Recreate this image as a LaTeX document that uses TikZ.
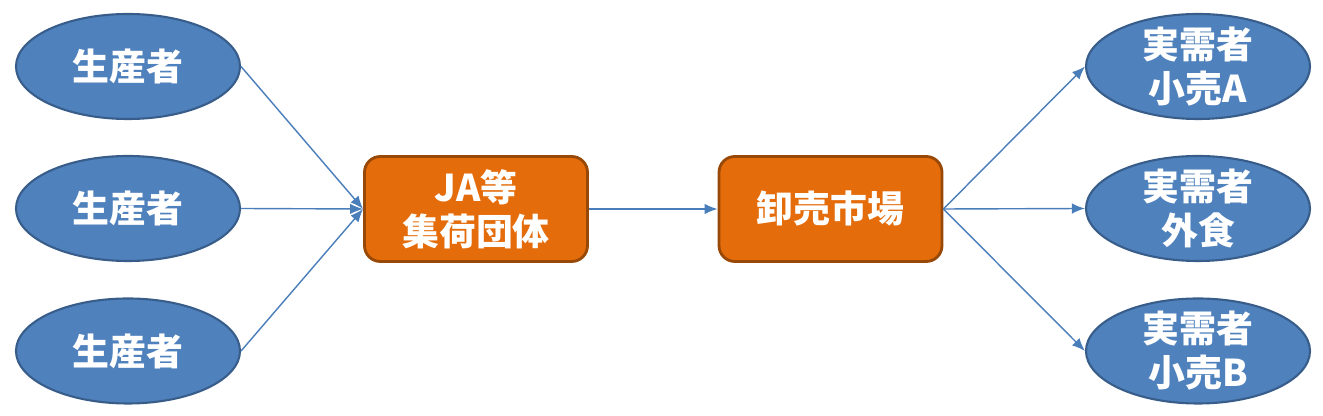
\documentclass[tikz,border=0pt]{standalone}
\usepackage{fontspec}
\setmainfont{Noto Sans CJK JP}
\usepackage{tikz}
\usetikzlibrary{arrows.meta}
\usetikzlibrary{shapes.geometric}
\definecolor{nodeblue}{RGB}{79,129,189}
\definecolor{edgeblue}{RGB}{56,93,138}
\definecolor{boxorange}{RGB}{228,108,10}
\definecolor{boxbrown}{RGB}{152,72,7}
\definecolor{flowblue}{RGB}{74,126,187}

\begin{document}
\begin{tikzpicture}[
    actor/.style={ellipse,draw=edgeblue,fill=nodeblue,line width=1.2pt,
      minimum width=4.48cm,minimum height=2.1cm,inner xsep=0pt,inner ysep=-6pt,
      text=white,align=center,font=\fontsize{21}{25}\selectfont\bfseries},
    hub/.style={rectangle,rounded corners=9pt,draw=boxbrown,fill=boxorange,
      line width=1.6pt,minimum width=4.46cm,minimum height=2.1cm,
      text=white,align=center,font=\fontsize{21}{25}\selectfont\bfseries},
    flow/.style={flowblue,line width=0.8pt,-{Latex[length=2.6mm,width=2.1mm]}}]
  \useasboundingbox (0,0) rectangle (26.46,8.32);
  % producers
  \foreach \n/\y in {1/6.99, 2/4.15, 3/1.30}
    \node[actor] (seisan\n) at (2.56,\y) {生産者};
  \node[hub] (ja) at (9.52,4.14) {JA等\\集荷団体};
  \node[hub] (oroshi) at (16.61,4.14) {卸売市場};
  % buyers
  \node[actor] (jitsu1) at (23.96,6.99) {実需者\\小売A};
  \node[actor] (jitsu2) at (23.96,4.15) {実需者\\外食};
  \node[actor] (jitsu3) at (23.96,1.30) {実需者\\小売B};
  \foreach \n in {1,2,3}
    \draw[flow] (seisan\n.east) -- (ja.west);
  \draw[flow] (ja) -- (oroshi);
  \foreach \n in {1,2,3}
    \draw[flow] (oroshi.east) -- (jitsu\n.west);
\end{tikzpicture}
\end{document}
